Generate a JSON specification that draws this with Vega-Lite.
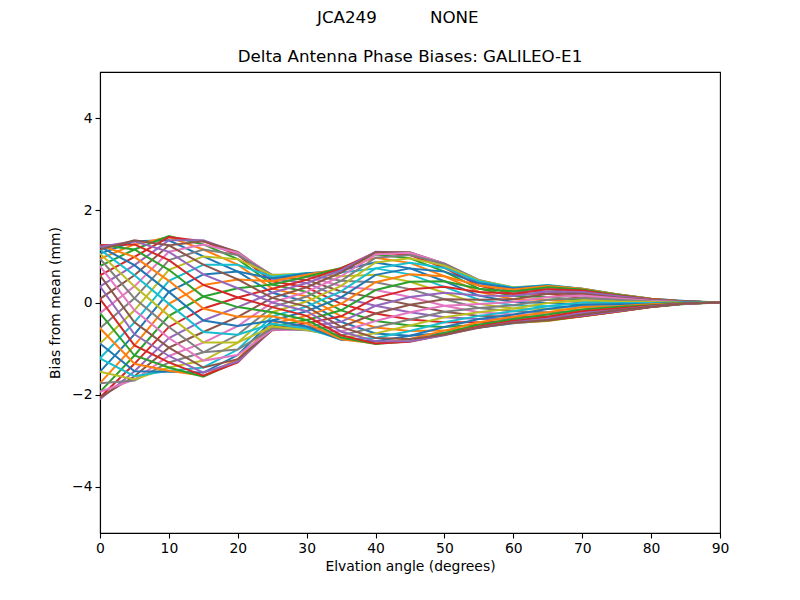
{
"$schema": "https://vega.github.io/schema/vega-lite/v6.json",
"width": 620, "height": 461,
"autosize": {"type": "none"},
"padding": {"left": 100, "top": 72, "right": 80, "bottom": 67},
"background": "white",
"config": {"font": "DejaVu Sans", "view": {"stroke": "black", "strokeWidth": 1.1}},
"title": {"text": "JCA249\u00a0\u00a0\u00a0\u00a0\u00a0\u00a0\u00a0\u00a0\u00a0\u00a0NONE\u2800\u2800", "subtitle": "Delta Antenna Phase Biases: GALILEO-E1", "fontSize": 16.7, "subtitleFontSize": 16.7, "fontWeight": "normal", "color": "black", "subtitleColor": "black", "anchor": "middle", "frame": "group", "offset": 6, "subtitlePadding": 23},
"datasets": {"pts": [
{"l":0,"e":0,"v":1.06},{"l":0,"e":5,"v":1.33},{"l":0,"e":10,"v":1.35},{"l":0,"e":15,"v":1.00},{"l":0,"e":20,"v":0.67},{"l":0,"e":25,"v":0.21},{"l":0,"e":30,"v":0.02},{"l":0,"e":35,"v":-0.42},{"l":0,"e":40,"v":-0.67},{"l":0,"e":45,"v":-0.72},{"l":0,"e":50,"v":-0.66},{"l":0,"e":55,"v":-0.54},{"l":0,"e":60,"v":-0.45},{"l":0,"e":65,"v":-0.39},{"l":0,"e":70,"v":-0.28},{"l":0,"e":75,"v":-0.19},{"l":0,"e":80,"v":-0.09},{"l":0,"e":85,"v":-0.02},{"l":0,"e":90,"v":0},
{"l":1,"e":0,"v":0.95},{"l":1,"e":5,"v":1.26},{"l":1,"e":10,"v":1.42},{"l":1,"e":15,"v":1.15},{"l":1,"e":20,"v":0.82},{"l":1,"e":25,"v":0.30},{"l":1,"e":30,"v":0.13},{"l":1,"e":35,"v":-0.30},{"l":1,"e":40,"v":-0.54},{"l":1,"e":45,"v":-0.62},{"l":1,"e":50,"v":-0.61},{"l":1,"e":55,"v":-0.52},{"l":1,"e":60,"v":-0.44},{"l":1,"e":65,"v":-0.40},{"l":1,"e":70,"v":-0.30},{"l":1,"e":75,"v":-0.20},{"l":1,"e":80,"v":-0.10},{"l":1,"e":85,"v":-0.02},{"l":1,"e":90,"v":0},
{"l":2,"e":0,"v":0.79},{"l":2,"e":5,"v":1.15},{"l":2,"e":10,"v":1.44},{"l":2,"e":15,"v":1.26},{"l":2,"e":20,"v":0.94},{"l":2,"e":25,"v":0.39},{"l":2,"e":30,"v":0.23},{"l":2,"e":35,"v":-0.17},{"l":2,"e":40,"v":-0.40},{"l":2,"e":45,"v":-0.50},{"l":2,"e":50,"v":-0.53},{"l":2,"e":55,"v":-0.48},{"l":2,"e":60,"v":-0.43},{"l":2,"e":65,"v":-0.39},{"l":2,"e":70,"v":-0.30},{"l":2,"e":75,"v":-0.20},{"l":2,"e":80,"v":-0.10},{"l":2,"e":85,"v":-0.03},{"l":2,"e":90,"v":0},
{"l":3,"e":0,"v":0.59},{"l":3,"e":5,"v":0.99},{"l":3,"e":10,"v":1.42},{"l":3,"e":15,"v":1.33},{"l":3,"e":20,"v":1.03},{"l":3,"e":25,"v":0.46},{"l":3,"e":30,"v":0.33},{"l":3,"e":35,"v":-0.03},{"l":3,"e":40,"v":-0.24},{"l":3,"e":45,"v":-0.37},{"l":3,"e":50,"v":-0.43},{"l":3,"e":55,"v":-0.43},{"l":3,"e":60,"v":-0.40},{"l":3,"e":65,"v":-0.38},{"l":3,"e":70,"v":-0.30},{"l":3,"e":75,"v":-0.20},{"l":3,"e":80,"v":-0.10},{"l":3,"e":85,"v":-0.02},{"l":3,"e":90,"v":0},
{"l":4,"e":0,"v":0.35},{"l":4,"e":5,"v":0.81},{"l":4,"e":10,"v":1.35},{"l":4,"e":15,"v":1.35},{"l":4,"e":20,"v":1.08},{"l":4,"e":25,"v":0.52},{"l":4,"e":30,"v":0.42},{"l":4,"e":35,"v":0.11},{"l":4,"e":40,"v":-0.07},{"l":4,"e":45,"v":-0.21},{"l":4,"e":50,"v":-0.32},{"l":4,"e":55,"v":-0.36},{"l":4,"e":60,"v":-0.36},{"l":4,"e":65,"v":-0.35},{"l":4,"e":70,"v":-0.28},{"l":4,"e":75,"v":-0.19},{"l":4,"e":80,"v":-0.09},{"l":4,"e":85,"v":-0.02},{"l":4,"e":90,"v":0},
{"l":5,"e":0,"v":0.08},{"l":5,"e":5,"v":0.59},{"l":5,"e":10,"v":1.24},{"l":5,"e":15,"v":1.33},{"l":5,"e":20,"v":1.10},{"l":5,"e":25,"v":0.56},{"l":5,"e":30,"v":0.49},{"l":5,"e":35,"v":0.24},{"l":5,"e":40,"v":0.10},{"l":5,"e":45,"v":-0.05},{"l":5,"e":50,"v":-0.20},{"l":5,"e":55,"v":-0.29},{"l":5,"e":60,"v":-0.31},{"l":5,"e":65,"v":-0.31},{"l":5,"e":70,"v":-0.26},{"l":5,"e":75,"v":-0.17},{"l":5,"e":80,"v":-0.09},{"l":5,"e":85,"v":-0.02},{"l":5,"e":90,"v":0},
{"l":6,"e":0,"v":-0.23},{"l":6,"e":5,"v":0.35},{"l":6,"e":10,"v":1.10},{"l":6,"e":15,"v":1.26},{"l":6,"e":20,"v":1.08},{"l":6,"e":25,"v":0.59},{"l":6,"e":30,"v":0.56},{"l":6,"e":35,"v":0.36},{"l":6,"e":40,"v":0.27},{"l":6,"e":45,"v":0.12},{"l":6,"e":50,"v":-0.07},{"l":6,"e":55,"v":-0.21},{"l":6,"e":60,"v":-0.26},{"l":6,"e":65,"v":-0.26},{"l":6,"e":70,"v":-0.23},{"l":6,"e":75,"v":-0.16},{"l":6,"e":80,"v":-0.08},{"l":6,"e":85,"v":-0.02},{"l":6,"e":90,"v":0},
{"l":7,"e":0,"v":-0.56},{"l":7,"e":5,"v":0.09},{"l":7,"e":10,"v":0.92},{"l":7,"e":15,"v":1.15},{"l":7,"e":20,"v":1.03},{"l":7,"e":25,"v":0.60},{"l":7,"e":30,"v":0.60},{"l":7,"e":35,"v":0.47},{"l":7,"e":40,"v":0.44},{"l":7,"e":45,"v":0.29},{"l":7,"e":50,"v":0.07},{"l":7,"e":55,"v":-0.12},{"l":7,"e":60,"v":-0.19},{"l":7,"e":65,"v":-0.21},{"l":7,"e":70,"v":-0.19},{"l":7,"e":75,"v":-0.13},{"l":7,"e":80,"v":-0.07},{"l":7,"e":85,"v":-0.02},{"l":7,"e":90,"v":0},
{"l":8,"e":0,"v":-0.89},{"l":8,"e":5,"v":-0.17},{"l":8,"e":10,"v":0.71},{"l":8,"e":15,"v":1.00},{"l":8,"e":20,"v":0.94},{"l":8,"e":25,"v":0.59},{"l":8,"e":30,"v":0.63},{"l":8,"e":35,"v":0.57},{"l":8,"e":40,"v":0.60},{"l":8,"e":45,"v":0.45},{"l":8,"e":50,"v":0.21},{"l":8,"e":55,"v":-0.03},{"l":8,"e":60,"v":-0.13},{"l":8,"e":65,"v":-0.14},{"l":8,"e":70,"v":-0.15},{"l":8,"e":75,"v":-0.10},{"l":8,"e":80,"v":-0.06},{"l":8,"e":85,"v":-0.01},{"l":8,"e":90,"v":0},
{"l":9,"e":0,"v":-1.21},{"l":9,"e":5,"v":-0.43},{"l":9,"e":10,"v":0.47},{"l":9,"e":15,"v":0.82},{"l":9,"e":20,"v":0.82},{"l":9,"e":25,"v":0.56},{"l":9,"e":30,"v":0.64},{"l":9,"e":35,"v":0.65},{"l":9,"e":40,"v":0.74},{"l":9,"e":45,"v":0.61},{"l":9,"e":50,"v":0.34},{"l":9,"e":55,"v":0.06},{"l":9,"e":60,"v":-0.06},{"l":9,"e":65,"v":-0.08},{"l":9,"e":70,"v":-0.10},{"l":9,"e":75,"v":-0.08},{"l":9,"e":80,"v":-0.04},{"l":9,"e":85,"v":-0.01},{"l":9,"e":90,"v":0},
{"l":10,"e":0,"v":-1.50},{"l":10,"e":5,"v":-0.69},{"l":10,"e":10,"v":0.23},{"l":10,"e":15,"v":0.61},{"l":10,"e":20,"v":0.67},{"l":10,"e":25,"v":0.52},{"l":10,"e":30,"v":0.63},{"l":10,"e":35,"v":0.70},{"l":10,"e":40,"v":0.87},{"l":10,"e":45,"v":0.74},{"l":10,"e":50,"v":0.46},{"l":10,"e":55,"v":0.15},{"l":10,"e":60,"v":0.01},{"l":10,"e":65,"v":-0.01},{"l":10,"e":70,"v":-0.05},{"l":10,"e":75,"v":-0.04},{"l":10,"e":80,"v":-0.03},{"l":10,"e":85,"v":0},{"l":10,"e":90,"v":0},
{"l":11,"e":0,"v":-1.75},{"l":11,"e":5,"v":-0.93},{"l":11,"e":10,"v":-0.03},{"l":11,"e":15,"v":0.38},{"l":11,"e":20,"v":0.50},{"l":11,"e":25,"v":0.46},{"l":11,"e":30,"v":0.60},{"l":11,"e":35,"v":0.74},{"l":11,"e":40,"v":0.97},{"l":11,"e":45,"v":0.86},{"l":11,"e":50,"v":0.57},{"l":11,"e":55,"v":0.23},{"l":11,"e":60,"v":0.07},{"l":11,"e":65,"v":0.06},{"l":11,"e":70,"v":0},{"l":11,"e":75,"v":-0.01},{"l":11,"e":80,"v":-0.01},{"l":11,"e":85,"v":0},{"l":11,"e":90,"v":0},
{"l":12,"e":0,"v":-1.94},{"l":12,"e":5,"v":-1.15},{"l":12,"e":10,"v":-0.29},{"l":12,"e":15,"v":0.13},{"l":12,"e":20,"v":0.31},{"l":12,"e":25,"v":0.39},{"l":12,"e":30,"v":0.56},{"l":12,"e":35,"v":0.75},{"l":12,"e":40,"v":1.04},{"l":12,"e":45,"v":0.96},{"l":12,"e":50,"v":0.67},{"l":12,"e":55,"v":0.30},{"l":12,"e":60,"v":0.14},{"l":12,"e":65,"v":0.12},{"l":12,"e":70,"v":0.05},{"l":12,"e":75,"v":0.02},{"l":12,"e":80,"v":0.01},{"l":12,"e":85,"v":0},{"l":12,"e":90,"v":0},
{"l":13,"e":0,"v":-2.06},{"l":13,"e":5,"v":-1.33},{"l":13,"e":10,"v":-0.53},{"l":13,"e":15,"v":-0.13},{"l":13,"e":20,"v":0.11},{"l":13,"e":25,"v":0.30},{"l":13,"e":30,"v":0.49},{"l":13,"e":35,"v":0.74},{"l":13,"e":40,"v":1.09},{"l":13,"e":45,"v":1.03},{"l":13,"e":50,"v":0.75},{"l":13,"e":55,"v":0.37},{"l":13,"e":60,"v":0.19},{"l":13,"e":65,"v":0.19},{"l":13,"e":70,"v":0.10},{"l":13,"e":75,"v":0.06},{"l":13,"e":80,"v":0.02},{"l":13,"e":85,"v":0.01},{"l":13,"e":90,"v":0},
{"l":14,"e":0,"v":-2.10},{"l":14,"e":5,"v":-1.49},{"l":14,"e":10,"v":-0.77},{"l":14,"e":15,"v":-0.39},{"l":14,"e":20,"v":-0.10},{"l":14,"e":25,"v":0.21},{"l":14,"e":30,"v":0.42},{"l":14,"e":35,"v":0.70},{"l":14,"e":40,"v":1.10},{"l":14,"e":45,"v":1.08},{"l":14,"e":50,"v":0.80},{"l":14,"e":55,"v":0.42},{"l":14,"e":60,"v":0.24},{"l":14,"e":65,"v":0.24},{"l":14,"e":70,"v":0.15},{"l":14,"e":75,"v":0.09},{"l":14,"e":80,"v":0.04},{"l":14,"e":85,"v":0.01},{"l":14,"e":90,"v":0},
{"l":15,"e":0,"v":-2.06},{"l":15,"e":5,"v":-1.60},{"l":15,"e":10,"v":-0.98},{"l":15,"e":15,"v":-0.64},{"l":15,"e":20,"v":-0.31},{"l":15,"e":25,"v":0.10},{"l":15,"e":30,"v":0.33},{"l":15,"e":35,"v":0.65},{"l":15,"e":40,"v":1.09},{"l":15,"e":45,"v":1.09},{"l":15,"e":50,"v":0.84},{"l":15,"e":55,"v":0.46},{"l":15,"e":60,"v":0.28},{"l":15,"e":65,"v":0.29},{"l":15,"e":70,"v":0.19},{"l":15,"e":75,"v":0.11},{"l":15,"e":80,"v":0.05},{"l":15,"e":85,"v":0.02},{"l":15,"e":90,"v":0},
{"l":16,"e":0,"v":-1.94},{"l":16,"e":5,"v":-1.67},{"l":16,"e":10,"v":-1.16},{"l":16,"e":15,"v":-0.87},{"l":16,"e":20,"v":-0.51},{"l":16,"e":25,"v":0},{"l":16,"e":30,"v":0.23},{"l":16,"e":35,"v":0.57},{"l":16,"e":40,"v":1.04},{"l":16,"e":45,"v":1.08},{"l":16,"e":50,"v":0.85},{"l":16,"e":55,"v":0.48},{"l":16,"e":60,"v":0.31},{"l":16,"e":65,"v":0.33},{"l":16,"e":70,"v":0.23},{"l":16,"e":75,"v":0.14},{"l":16,"e":80,"v":0.06},{"l":16,"e":85,"v":0.02},{"l":16,"e":90,"v":0},
{"l":17,"e":0,"v":-1.75},{"l":17,"e":5,"v":-1.69},{"l":17,"e":10,"v":-1.30},{"l":17,"e":15,"v":-1.08},{"l":17,"e":20,"v":-0.70},{"l":17,"e":25,"v":-0.10},{"l":17,"e":30,"v":0.13},{"l":17,"e":35,"v":0.47},{"l":17,"e":40,"v":0.97},{"l":17,"e":45,"v":1.03},{"l":17,"e":50,"v":0.84},{"l":17,"e":55,"v":0.49},{"l":17,"e":60,"v":0.32},{"l":17,"e":65,"v":0.36},{"l":17,"e":70,"v":0.26},{"l":17,"e":75,"v":0.15},{"l":17,"e":80,"v":0.07},{"l":17,"e":85,"v":0.02},{"l":17,"e":90,"v":0},
{"l":18,"e":0,"v":-1.50},{"l":18,"e":5,"v":-1.67},{"l":18,"e":10,"v":-1.41},{"l":18,"e":15,"v":-1.26},{"l":18,"e":20,"v":-0.87},{"l":18,"e":25,"v":-0.21},{"l":18,"e":30,"v":0.02},{"l":18,"e":35,"v":0.36},{"l":18,"e":40,"v":0.87},{"l":18,"e":45,"v":0.96},{"l":18,"e":50,"v":0.80},{"l":18,"e":55,"v":0.48},{"l":18,"e":60,"v":0.33},{"l":18,"e":65,"v":0.37},{"l":18,"e":70,"v":0.28},{"l":18,"e":75,"v":0.17},{"l":18,"e":80,"v":0.07},{"l":18,"e":85,"v":0.02},{"l":18,"e":90,"v":0},
{"l":19,"e":0,"v":-1.21},{"l":19,"e":5,"v":-1.60},{"l":19,"e":10,"v":-1.48},{"l":19,"e":15,"v":-1.41},{"l":19,"e":20,"v":-1.02},{"l":19,"e":25,"v":-0.30},{"l":19,"e":30,"v":-0.09},{"l":19,"e":35,"v":0.24},{"l":19,"e":40,"v":0.74},{"l":19,"e":45,"v":0.86},{"l":19,"e":50,"v":0.75},{"l":19,"e":55,"v":0.46},{"l":19,"e":60,"v":0.32},{"l":19,"e":65,"v":0.38},{"l":19,"e":70,"v":0.30},{"l":19,"e":75,"v":0.18},{"l":19,"e":80,"v":0.08},{"l":19,"e":85,"v":0.02},{"l":19,"e":90,"v":0},
{"l":20,"e":0,"v":-0.89},{"l":20,"e":5,"v":-1.49},{"l":20,"e":10,"v":-1.50},{"l":20,"e":15,"v":-1.52},{"l":20,"e":20,"v":-1.14},{"l":20,"e":25,"v":-0.39},{"l":20,"e":30,"v":-0.19},{"l":20,"e":35,"v":0.11},{"l":20,"e":40,"v":0.60},{"l":20,"e":45,"v":0.74},{"l":20,"e":50,"v":0.67},{"l":20,"e":55,"v":0.42},{"l":20,"e":60,"v":0.31},{"l":20,"e":65,"v":0.37},{"l":20,"e":70,"v":0.30},{"l":20,"e":75,"v":0.18},{"l":20,"e":80,"v":0.08},{"l":20,"e":85,"v":0.03},{"l":20,"e":90,"v":0},
{"l":21,"e":0,"v":-0.56},{"l":21,"e":5,"v":-1.33},{"l":21,"e":10,"v":-1.48},{"l":21,"e":15,"v":-1.59},{"l":21,"e":20,"v":-1.23},{"l":21,"e":25,"v":-0.46},{"l":21,"e":30,"v":-0.29},{"l":21,"e":35,"v":-0.03},{"l":21,"e":40,"v":0.44},{"l":21,"e":45,"v":0.61},{"l":21,"e":50,"v":0.57},{"l":21,"e":55,"v":0.37},{"l":21,"e":60,"v":0.28},{"l":21,"e":65,"v":0.36},{"l":21,"e":70,"v":0.30},{"l":21,"e":75,"v":0.18},{"l":21,"e":80,"v":0.08},{"l":21,"e":85,"v":0.02},{"l":21,"e":90,"v":0},
{"l":22,"e":0,"v":-0.23},{"l":22,"e":5,"v":-1.15},{"l":22,"e":10,"v":-1.41},{"l":22,"e":15,"v":-1.61},{"l":22,"e":20,"v":-1.28},{"l":22,"e":25,"v":-0.52},{"l":22,"e":30,"v":-0.38},{"l":22,"e":35,"v":-0.17},{"l":22,"e":40,"v":0.27},{"l":22,"e":45,"v":0.45},{"l":22,"e":50,"v":0.46},{"l":22,"e":55,"v":0.30},{"l":22,"e":60,"v":0.24},{"l":22,"e":65,"v":0.33},{"l":22,"e":70,"v":0.28},{"l":22,"e":75,"v":0.17},{"l":22,"e":80,"v":0.07},{"l":22,"e":85,"v":0.02},{"l":22,"e":90,"v":0},
{"l":23,"e":0,"v":0.08},{"l":23,"e":5,"v":-0.93},{"l":23,"e":10,"v":-1.30},{"l":23,"e":15,"v":-1.59},{"l":23,"e":20,"v":-1.30},{"l":23,"e":25,"v":-0.56},{"l":23,"e":30,"v":-0.45},{"l":23,"e":35,"v":-0.30},{"l":23,"e":40,"v":0.10},{"l":23,"e":45,"v":0.29},{"l":23,"e":50,"v":0.34},{"l":23,"e":55,"v":0.23},{"l":23,"e":60,"v":0.19},{"l":23,"e":65,"v":0.29},{"l":23,"e":70,"v":0.26},{"l":23,"e":75,"v":0.15},{"l":23,"e":80,"v":0.07},{"l":23,"e":85,"v":0.02},{"l":23,"e":90,"v":0},
{"l":24,"e":0,"v":0.35},{"l":24,"e":5,"v":-0.69},{"l":24,"e":10,"v":-1.16},{"l":24,"e":15,"v":-1.52},{"l":24,"e":20,"v":-1.28},{"l":24,"e":25,"v":-0.59},{"l":24,"e":30,"v":-0.52},{"l":24,"e":35,"v":-0.42},{"l":24,"e":40,"v":-0.07},{"l":24,"e":45,"v":0.12},{"l":24,"e":50,"v":0.21},{"l":24,"e":55,"v":0.15},{"l":24,"e":60,"v":0.14},{"l":24,"e":65,"v":0.24},{"l":24,"e":70,"v":0.23},{"l":24,"e":75,"v":0.14},{"l":24,"e":80,"v":0.06},{"l":24,"e":85,"v":0.02},{"l":24,"e":90,"v":0},
{"l":25,"e":0,"v":0.59},{"l":25,"e":5,"v":-0.43},{"l":25,"e":10,"v":-0.98},{"l":25,"e":15,"v":-1.41},{"l":25,"e":20,"v":-1.23},{"l":25,"e":25,"v":-0.60},{"l":25,"e":30,"v":-0.56},{"l":25,"e":35,"v":-0.53},{"l":25,"e":40,"v":-0.24},{"l":25,"e":45,"v":-0.05},{"l":25,"e":50,"v":0.07},{"l":25,"e":55,"v":0.06},{"l":25,"e":60,"v":0.07},{"l":25,"e":65,"v":0.19},{"l":25,"e":70,"v":0.19},{"l":25,"e":75,"v":0.11},{"l":25,"e":80,"v":0.05},{"l":25,"e":85,"v":0.02},{"l":25,"e":90,"v":0},
{"l":26,"e":0,"v":0.79},{"l":26,"e":5,"v":-0.17},{"l":26,"e":10,"v":-0.77},{"l":26,"e":15,"v":-1.26},{"l":26,"e":20,"v":-1.14},{"l":26,"e":25,"v":-0.59},{"l":26,"e":30,"v":-0.59},{"l":26,"e":35,"v":-0.63},{"l":26,"e":40,"v":-0.40},{"l":26,"e":45,"v":-0.21},{"l":26,"e":50,"v":-0.07},{"l":26,"e":55,"v":-0.03},{"l":26,"e":60,"v":0.01},{"l":26,"e":65,"v":0.12},{"l":26,"e":70,"v":0.15},{"l":26,"e":75,"v":0.09},{"l":26,"e":80,"v":0.04},{"l":26,"e":85,"v":0.01},{"l":26,"e":90,"v":0},
{"l":27,"e":0,"v":0.95},{"l":27,"e":5,"v":0.09},{"l":27,"e":10,"v":-0.53},{"l":27,"e":15,"v":-1.08},{"l":27,"e":20,"v":-1.02},{"l":27,"e":25,"v":-0.56},{"l":27,"e":30,"v":-0.60},{"l":27,"e":35,"v":-0.71},{"l":27,"e":40,"v":-0.54},{"l":27,"e":45,"v":-0.37},{"l":27,"e":50,"v":-0.20},{"l":27,"e":55,"v":-0.12},{"l":27,"e":60,"v":-0.06},{"l":27,"e":65,"v":0.06},{"l":27,"e":70,"v":0.10},{"l":27,"e":75,"v":0.06},{"l":27,"e":80,"v":0.02},{"l":27,"e":85,"v":0.01},{"l":27,"e":90,"v":0},
{"l":28,"e":0,"v":1.06},{"l":28,"e":5,"v":0.35},{"l":28,"e":10,"v":-0.29},{"l":28,"e":15,"v":-0.87},{"l":28,"e":20,"v":-0.87},{"l":28,"e":25,"v":-0.52},{"l":28,"e":30,"v":-0.59},{"l":28,"e":35,"v":-0.76},{"l":28,"e":40,"v":-0.67},{"l":28,"e":45,"v":-0.50},{"l":28,"e":50,"v":-0.32},{"l":28,"e":55,"v":-0.21},{"l":28,"e":60,"v":-0.13},{"l":28,"e":65,"v":-0.01},{"l":28,"e":70,"v":0.05},{"l":28,"e":75,"v":0.02},{"l":28,"e":80,"v":0.01},{"l":28,"e":85,"v":0},{"l":28,"e":90,"v":0},
{"l":29,"e":0,"v":1.15},{"l":29,"e":5,"v":0.59},{"l":29,"e":10,"v":-0.03},{"l":29,"e":15,"v":-0.64},{"l":29,"e":20,"v":-0.70},{"l":29,"e":25,"v":-0.46},{"l":29,"e":30,"v":-0.56},{"l":29,"e":35,"v":-0.80},{"l":29,"e":40,"v":-0.77},{"l":29,"e":45,"v":-0.62},{"l":29,"e":50,"v":-0.43},{"l":29,"e":55,"v":-0.29},{"l":29,"e":60,"v":-0.19},{"l":29,"e":65,"v":-0.08},{"l":29,"e":70,"v":0},{"l":29,"e":75,"v":-0.01},{"l":29,"e":80,"v":-0.01},{"l":29,"e":85,"v":0},{"l":29,"e":90,"v":0},
{"l":30,"e":0,"v":1.21},{"l":30,"e":5,"v":0.81},{"l":30,"e":10,"v":0.23},{"l":30,"e":15,"v":-0.39},{"l":30,"e":20,"v":-0.51},{"l":30,"e":25,"v":-0.39},{"l":30,"e":30,"v":-0.52},{"l":30,"e":35,"v":-0.81},{"l":30,"e":40,"v":-0.84},{"l":30,"e":45,"v":-0.72},{"l":30,"e":50,"v":-0.53},{"l":30,"e":55,"v":-0.36},{"l":30,"e":60,"v":-0.26},{"l":30,"e":65,"v":-0.14},{"l":30,"e":70,"v":-0.05},{"l":30,"e":75,"v":-0.04},{"l":30,"e":80,"v":-0.03},{"l":30,"e":85,"v":0},{"l":30,"e":90,"v":0},
{"l":31,"e":0,"v":1.24},{"l":31,"e":5,"v":0.99},{"l":31,"e":10,"v":0.47},{"l":31,"e":15,"v":-0.13},{"l":31,"e":20,"v":-0.31},{"l":31,"e":25,"v":-0.30},{"l":31,"e":30,"v":-0.45},{"l":31,"e":35,"v":-0.80},{"l":31,"e":40,"v":-0.89},{"l":31,"e":45,"v":-0.79},{"l":31,"e":50,"v":-0.61},{"l":31,"e":55,"v":-0.43},{"l":31,"e":60,"v":-0.31},{"l":31,"e":65,"v":-0.21},{"l":31,"e":70,"v":-0.10},{"l":31,"e":75,"v":-0.08},{"l":31,"e":80,"v":-0.04},{"l":31,"e":85,"v":-0.01},{"l":31,"e":90,"v":0},
{"l":32,"e":0,"v":1.25},{"l":32,"e":5,"v":1.15},{"l":32,"e":10,"v":0.71},{"l":32,"e":15,"v":0.13},{"l":32,"e":20,"v":-0.10},{"l":32,"e":25,"v":-0.21},{"l":32,"e":30,"v":-0.38},{"l":32,"e":35,"v":-0.76},{"l":32,"e":40,"v":-0.90},{"l":32,"e":45,"v":-0.84},{"l":32,"e":50,"v":-0.66},{"l":32,"e":55,"v":-0.48},{"l":32,"e":60,"v":-0.36},{"l":32,"e":65,"v":-0.26},{"l":32,"e":70,"v":-0.15},{"l":32,"e":75,"v":-0.10},{"l":32,"e":80,"v":-0.06},{"l":32,"e":85,"v":-0.01},{"l":32,"e":90,"v":0},
{"l":33,"e":0,"v":1.24},{"l":33,"e":5,"v":1.26},{"l":33,"e":10,"v":0.92},{"l":33,"e":15,"v":0.38},{"l":33,"e":20,"v":0.11},{"l":33,"e":25,"v":-0.10},{"l":33,"e":30,"v":-0.29},{"l":33,"e":35,"v":-0.71},{"l":33,"e":40,"v":-0.89},{"l":33,"e":45,"v":-0.85},{"l":33,"e":50,"v":-0.70},{"l":33,"e":55,"v":-0.52},{"l":33,"e":60,"v":-0.40},{"l":33,"e":65,"v":-0.31},{"l":33,"e":70,"v":-0.19},{"l":33,"e":75,"v":-0.13},{"l":33,"e":80,"v":-0.07},{"l":33,"e":85,"v":-0.02},{"l":33,"e":90,"v":0},
{"l":34,"e":0,"v":1.21},{"l":34,"e":5,"v":1.33},{"l":34,"e":10,"v":1.10},{"l":34,"e":15,"v":0.61},{"l":34,"e":20,"v":0.31},{"l":34,"e":25,"v":0},{"l":34,"e":30,"v":-0.19},{"l":34,"e":35,"v":-0.63},{"l":34,"e":40,"v":-0.84},{"l":34,"e":45,"v":-0.84},{"l":34,"e":50,"v":-0.71},{"l":34,"e":55,"v":-0.54},{"l":34,"e":60,"v":-0.43},{"l":34,"e":65,"v":-0.35},{"l":34,"e":70,"v":-0.23},{"l":34,"e":75,"v":-0.16},{"l":34,"e":80,"v":-0.08},{"l":34,"e":85,"v":-0.02},{"l":34,"e":90,"v":0},
{"l":35,"e":0,"v":1.15},{"l":35,"e":5,"v":1.35},{"l":35,"e":10,"v":1.24},{"l":35,"e":15,"v":0.82},{"l":35,"e":20,"v":0.50},{"l":35,"e":25,"v":0.10},{"l":35,"e":30,"v":-0.09},{"l":35,"e":35,"v":-0.53},{"l":35,"e":40,"v":-0.77},{"l":35,"e":45,"v":-0.79},{"l":35,"e":50,"v":-0.70},{"l":35,"e":55,"v":-0.55},{"l":35,"e":60,"v":-0.44},{"l":35,"e":65,"v":-0.38},{"l":35,"e":70,"v":-0.26},{"l":35,"e":75,"v":-0.17},{"l":35,"e":80,"v":-0.09},{"l":35,"e":85,"v":-0.02},{"l":35,"e":90,"v":0}
]},
"data": {"name": "pts"},
"mark": {"type": "line", "strokeWidth": 2, "clip": true},
"encoding": {
"x": {"field": "e", "type": "quantitative", "scale": {"domain": [0, 90], "nice": false, "zero": false},
"axis": {"values": [0,10,20,30,40,50,60,70,80,90], "title": "Elvation angle (degrees)", "grid": false, "labelFontSize": 13.9, "titleFontSize": 13.9, "titleFontWeight": "normal", "labelColor": "black", "titleColor": "black", "tickColor": "black", "domainColor": "black", "tickSize": 5, "tickWidth": 1.1, "domainWidth": 1.1, "labelPadding": 3, "titlePadding": 5, "labelFlush": false}},
"y": {"field": "v", "type": "quantitative", "scale": {"domain": [-5, 5], "nice": false},
"axis": {"values": [-4,-2,0,2,4], "title": "Bias from mean (mm)", "grid": false, "labelFontSize": 13.9, "titleFontSize": 13.9, "titleFontWeight": "normal", "labelColor": "black", "titleColor": "black", "tickColor": "black", "domainColor": "black", "tickSize": 5, "tickWidth": 1.1, "domainWidth": 1.1, "labelPadding": 3, "titlePadding": 9}},
"color": {"field": "l", "type": "nominal", "scale": {"scheme": "category10"}, "legend": null}
}
}
